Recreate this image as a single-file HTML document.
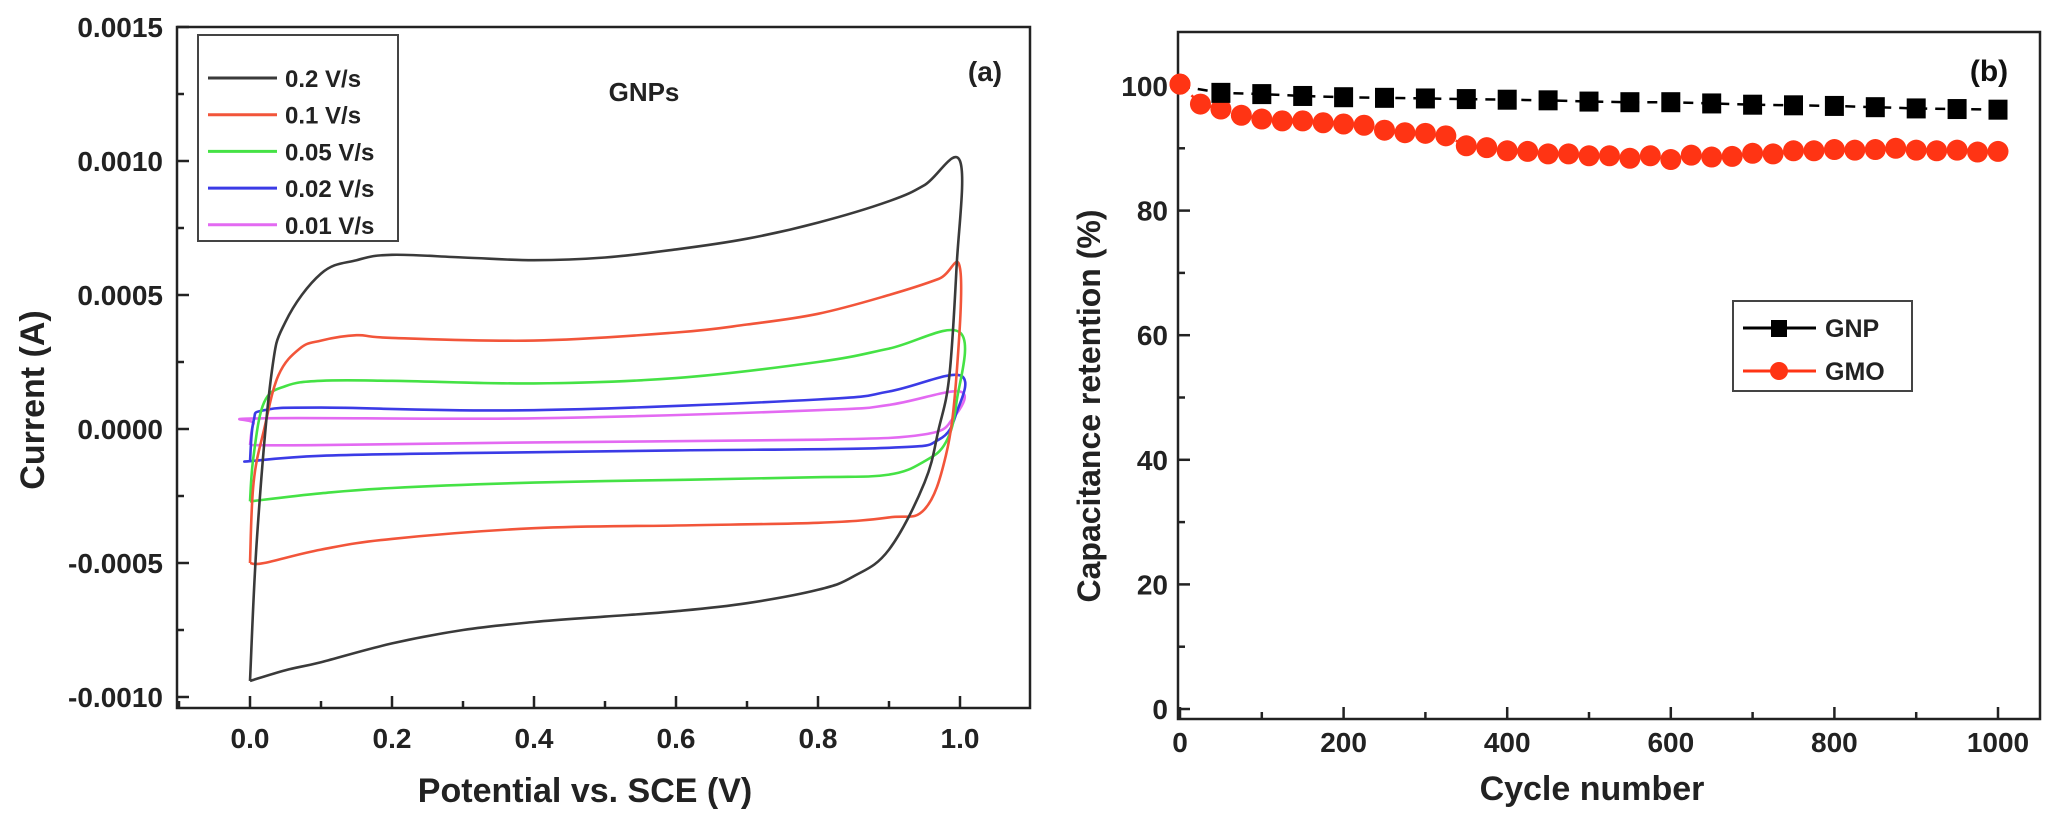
<!DOCTYPE html>
<html><head><meta charset="utf-8">
<style>
html,body{margin:0;padding:0;background:#fff;}
svg{display:block;font-family:"Liberation Sans",Arial,sans-serif;font-weight:bold;}
</style></head>
<body>
<svg id="fig" width="2053" height="826" viewBox="0 0 2053 826" xmlns="http://www.w3.org/2000/svg">
<g id="pa"></g>
<g id="pb"></g>
</svg>
<script>
// ===== Panel (a) data =====
const cvSeriesNames = ["0.2 V/s","0.1 V/s","0.05 V/s","0.02 V/s","0.01 V/s"];
const cvColors = ["#3a3a3a","#f2553a","#45e245","#3b3be6","#e36af2"];
const cvPot02 = [0,0.01,0.03,0.05,0.1,0.15,0.2,0.3,0.4,0.5,0.6,0.7,0.8,0.9,0.95,1.0,0.995,0.985,0.97,0.95,0.9,0.85,0.8,0.7,0.6,0.5,0.4,0.3,0.2,0.1,0.05,0.0];
const cvCur02 = [-0.00094,-0.0004,0.0002,0.0004,0.00058,0.00063,0.00065,0.00064,0.00063,0.00064,0.00067,0.00071,0.00077,0.00085,0.00091,0.001,0.0006,0.0002,0.0,-0.0002,-0.00045,-0.00055,-0.0006,-0.00065,-0.00068,-0.0007,-0.00072,-0.00075,-0.0008,-0.00087,-0.0009,-0.00094];
const cvPot01 = [0,0.005,0.02,0.04,0.07,0.1,0.15,0.2,0.4,0.6,0.7,0.8,0.9,0.97,1.0,0.995,0.98,0.95,0.9,0.8,0.6,0.4,0.2,0.1,0.02,0.0];
const cvCur01 = [-0.0005,-0.0002,0.0,0.0002,0.0003,0.00033,0.00035,0.00034,0.00033,0.00036,0.00039,0.00043,0.0005,0.00056,0.0006,0.0002,-0.0001,-0.0003,-0.00033,-0.00035,-0.00036,-0.00037,-0.00041,-0.00045,-0.0005,-0.0005];
const cvPot005 = [0,0.005,0.02,0.05,0.1,0.2,0.4,0.6,0.8,0.9,1.0,0.995,0.98,0.95,0.9,0.8,0.6,0.4,0.2,0.1,0.0];
const cvCur005 = [-0.00027,-0.0001,0.0001,0.00016,0.00018,0.00018,0.00017,0.00019,0.00025,0.0003,0.00036,0.0001,-0.00005,-0.00012,-0.00017,-0.00018,-0.00019,-0.0002,-0.00022,-0.00024,-0.00027];
const cvPot002 = [0,0.005,0.02,0.1,0.4,0.8,0.9,1.0,0.995,0.97,0.9,0.6,0.3,0.1,0.0,0.0];
const cvCur002 = [-0.00012,0.00003,0.00007,0.00008,0.00007,0.00011,0.00014,0.0002,0.00006,-0.00004,-0.00007,-0.00008,-0.00009,-0.0001,-0.00012,-0.00012];
const cvPot001 = [0,0.005,0.02,0.4,0.8,0.9,1.0,0.99,0.95,0.8,0.4,0.1,0.0];
const cvCur001 = [-0.00006,0.00002,0.00004,0.00004,0.00007,0.00009,0.00014,0.00004,-0.00002,-0.00004,-0.00005,-0.00006,-0.00006];
const cvXTicks = ["0.0","0.2","0.4","0.6","0.8","1.0"];
const cvYTicks = ["-0.0010","-0.0005","0.0000","0.0005","0.0010","0.0015"];

// ===== Panel (b) data =====
const gnpCycles = [0,50,100,150,200,250,300,350,400,450,500,550,600,650,700,750,800,850,900,950,1000];
const gnpValues = [100,98.9,98.7,98.4,98.2,98.1,98,97.9,97.8,97.7,97.5,97.4,97.4,97.2,97,96.9,96.8,96.6,96.4,96.3,96.2];
const gmoCycles = [0,25,50,75,100,125,150,175,200,225,250,275,300,325,350,375,400,425,450,475,500,525,550,575,600,625,650,675,700,725,750,775,800,825,850,875,900,925,950,975,1000];
const gmoValues = [100.3,97.1,96.3,95.3,94.7,94.4,94.4,94.1,93.9,93.7,92.9,92.5,92.4,92.0,90.4,90.1,89.6,89.5,89.1,89.1,88.8,88.8,88.4,88.8,88.2,88.9,88.6,88.7,89.2,89.1,89.6,89.6,89.8,89.7,89.8,90.0,89.7,89.6,89.7,89.4,89.5];
const retXTicks = ["0","200","400","600","800","1000"];
const retYTicks = ["0","20","40","60","80","100"];

const NS="http://www.w3.org/2000/svg";
function mk(parent,tag,attrs,text){const e=document.createElementNS(NS,tag);for(const k in attrs)e.setAttribute(k,attrs[k]);if(text!==undefined)e.textContent=text;parent.appendChild(e);return e;}
function smooth(P){let d='M'+P[0][0].toFixed(1)+','+P[0][1].toFixed(1);
 for(let i=0;i<P.length-1;i++){const p0=P[Math.max(i-1,0)],p1=P[i],p2=P[i+1],p3=P[Math.min(i+2,P.length-1)];
  const t=0.18;
  const c1=[p1[0]+(p2[0]-p0[0])*t,p1[1]+(p2[1]-p0[1])*t];
  const c2=[p2[0]-(p3[0]-p1[0])*t,p2[1]-(p3[1]-p1[1])*t];
  d+=' C'+c1[0].toFixed(1)+','+c1[1].toFixed(1)+' '+c2[0].toFixed(1)+','+c2[1].toFixed(1)+' '+p2[0].toFixed(1)+','+p2[1].toFixed(1);}
 return d;}

// ---------- Panel A ----------
const pa=document.getElementById('pa');
const aL=177,aR=1030,aT=27,aB=708;
const ax=v=>250+v*710;
const ay=v=>429-v/0.0005*134;
let el;
el=mk(pa,'rect',{x:aL,y:aT,width:aR-aL,height:aB-aT,fill:'none',stroke:'#222','stroke-width':2.5});


for(let i=-1;i<=11;i++){const v=i/10;const x=ax(v);if(x<aL||x>aR)continue;const major=i%2===0;
 el=mk(pa,'line',{x1:x,x2:x,y1:aB,y2:aB-(major?12:7),stroke:'#222','stroke-width':2.5});
 
 }
cvXTicks.forEach(t=>{el=mk(pa,'text',{x:ax(parseFloat(t)),y:748,'font-size':28,'text-anchor':'middle',fill:'#222'},t);
 
 });
for(let i=-4;i<=6;i++){const v=i*0.00025;const y=ay(v);if(y<aT-1||y>aB)continue;const major=i%2===0;
 el=mk(pa,'line',{x1:aL,x2:aL+(major?12:7),y1:y,y2:y,stroke:'#222','stroke-width':2.5});
 
 }
cvYTicks.forEach(t=>{el=mk(pa,'text',{x:163,y:ay(parseFloat(t))+10,'font-size':28,'text-anchor':'end',fill:'#222'},t);
 
 });
el=mk(pa,'text',{x:585,y:802,'font-size':34,'text-anchor':'middle',fill:'#222'},'Potential vs. SCE (V)');


el=mk(pa,'text',{x:0,y:0,'font-size':34,'text-anchor':'middle',fill:'#222',transform:'translate(44,400) rotate(-90)'},'Current (A)');


const cvPots=[cvPot02,cvPot01,cvPot005,cvPot002,cvPot001];
const cvCurs=[cvCur02,cvCur01,cvCur005,cvCur002,cvCur001];
for(let s=4;s>=0;s--){
 const P=cvPots[s].map((p,i)=>[ax(p),ay(cvCurs[s][i])]);
 el=mk(pa,'path',{d:smooth(P),fill:'none',stroke:cvColors[s],'stroke-width':2.6,'stroke-linejoin':'round'});
 
 
}
el=mk(pa,'rect',{x:198,y:35,width:200,height:206,fill:'#fff',stroke:'#444','stroke-width':2});


cvSeriesNames.forEach((n,i)=>{const y=78+i*36.7;
 el=mk(pa,'line',{x1:208,x2:277,y1:y,y2:y,stroke:cvColors[i],'stroke-width':3});
 
 
 el=mk(pa,'text',{x:285,y:y+9,'font-size':24,fill:'#222'},n);
 
 });
el=mk(pa,'text',{x:644,y:101,'font-size':26,'text-anchor':'middle',fill:'#222'},'GNPs');


el=mk(pa,'text',{x:985,y:81,'font-size':28,'text-anchor':'middle',fill:'#222'},'(a)');



// ---------- Panel B ----------
const pb=document.getElementById('pb');
const bL=1178,bR=2040,bT=32,bB=719;
const bx=v=>1180+v*0.818;
const by=v=>709-v*6.23;
el=mk(pb,'rect',{x:bL,y:bT,width:bR-bL,height:bB-bT,fill:'none',stroke:'#222','stroke-width':2.5});


for(let i=0;i<=10;i++){const v=i*100;const x=bx(v);const major=i%2===0;
 el=mk(pb,'line',{x1:x,x2:x,y1:bB,y2:bB-(major?12:7),stroke:'#222','stroke-width':2.5});
 
 }
retXTicks.forEach(t=>{el=mk(pb,'text',{x:bx(+t),y:752,'font-size':28,'text-anchor':'middle',fill:'#222'},t);
 
 });
for(let i=0;i<=10;i++){const v=i*10;const y=by(v);const major=i%2===0;
 el=mk(pb,'line',{x1:bL,x2:bL+(major?12:7),y1:y,y2:y,stroke:'#222','stroke-width':2.5});
 
 }
retYTicks.forEach(t=>{el=mk(pb,'text',{x:1168,y:by(+t)+10,'font-size':28,'text-anchor':'end',fill:'#222'},t);
 
 });
el=mk(pb,'text',{x:1592,y:800,'font-size':34,'text-anchor':'middle',fill:'#222'},'Cycle number');


el=mk(pb,'text',{x:0,y:0,'font-size':32,'text-anchor':'middle',fill:'#222',transform:'translate(1100,406) rotate(-90)'},'Capacitance retention (%)');


// GMO
el=mk(pb,'polyline',{points:gmoCycles.map((c,i)=>bx(c)+','+by(gmoValues[i])).join(' '),fill:'none',stroke:'#ff3414','stroke-width':2.5,'stroke-dasharray':'10,6'});


gmoCycles.forEach((c,i)=>{el=mk(pb,'circle',{cx:bx(c),cy:by(gmoValues[i]),r:10.5,fill:'#ff3414'});
 
 });
// GNP
el=mk(pb,'polyline',{points:gnpCycles.map((c,i)=>bx(c)+','+by(gnpValues[i])).join(' '),fill:'none',stroke:'#000','stroke-width':2.5,'stroke-dasharray':'10,8'});


gnpCycles.forEach((c,i)=>{if(i===0)return;el=mk(pb,'rect',{x:bx(c)-9.5,y:by(gnpValues[i])-10,width:19,height:20,fill:'#000'});
 
 });
el=mk(pb,'circle',{cx:bx(gmoCycles[0]),cy:by(gmoValues[0]),r:10.5,fill:'#ff3414'});


// legend
el=mk(pb,'rect',{x:1733,y:301,width:179,height:90,fill:'#fff',stroke:'#444','stroke-width':2});


el=mk(pb,'line',{x1:1743,x2:1816,y1:328,y2:328,stroke:'#000','stroke-width':3});


el=mk(pb,'rect',{x:1771,y:320,width:16,height:17,fill:'#000'});


el=mk(pb,'text',{x:1825,y:337,'font-size':25,fill:'#222'},'GNP');


el=mk(pb,'line',{x1:1743,x2:1816,y1:371,y2:371,stroke:'#ff3414','stroke-width':3});


el=mk(pb,'circle',{cx:1779,cy:371,r:9,fill:'#ff3414'});


el=mk(pb,'text',{x:1825,y:380,'font-size':25,fill:'#222'},'GMO');


el=mk(pb,'text',{x:1989,y:81,'font-size':30,'text-anchor':'middle',fill:'#111'},'(b)');


</script>
</body></html>
